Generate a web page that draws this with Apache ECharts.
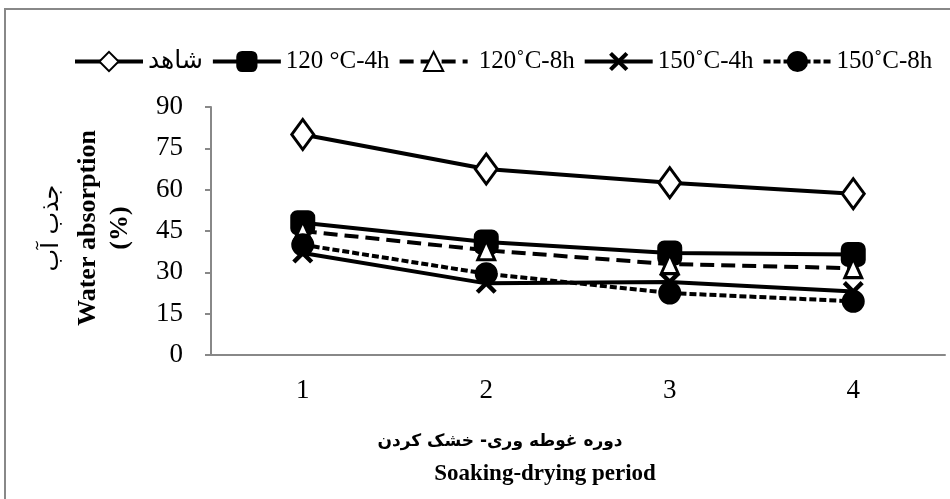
<!DOCTYPE html>
<html>
<head>
<meta charset="utf-8">
<script src="https://cdn.jsdelivr.net/npm/echarts@6/dist/echarts.min.js"></script>
<style>
html,body{margin:0;padding:0;background:#fff;}
#chart{width:950px;height:499px;}
</style>
</head>
<body>
<div id="chart"></div>
<script>
const categories = ['1', '2', '3', '4'];
const seriesNames = ['شاهد', '120 °C-4h', ' 120˚C-8h', '150˚C-4h', '150˚C-8h'];
const control = [80, 67.5, 62.5, 58.5];
const c120_4h = [48, 41, 37, 36.5];
const c120_8h = [45, 38, 33, 31.5];
const c150_4h = [37, 26, 26.5, 23];
const c150_8h = [40, 29.5, 22.5, 19.5];
const yTicks = {min: 0, max: 90, interval: 15};

const serif = 'Liberation Serif, DejaVu Sans';
const xPath = 'path://M3,0 L10,7 L17,0 L20,3 L13,10 L20,17 L17,20 L10,13 L3,20 L0,17 L7,10 L0,3 Z';

function mk(name, data, symbol, size, fill, dash) {
  return {
    name: name,
    type: 'line',
    data: data,
    symbol: symbol,
    symbolSize: size,
    showAllSymbol: true,
    lineStyle: {color: '#000', width: 4, type: dash},
    itemStyle: {color: fill, borderColor: '#000', borderWidth: symbol === xPath ? 0 : 3},
    emphasis: {disabled: true},
    animation: false
  };
}

const chart = echarts.init(document.getElementById('chart'), null, {renderer: 'canvas'});
chart.setOption({
  backgroundColor: '#fff',
  animation: false,
  legend: {
    top: 44,
    left: 68,
    itemWidth: 68,
    itemHeight: 24,
    itemGap: 8,
    lineStyle: {width: 4},
    textStyle: {fontFamily: serif, fontSize: 25, color: '#000'},
    data: seriesNames
  },
  grid: {left: 211, right: 5, top: 107, bottom: 144, containLabel: false},
  xAxis: {
    type: 'category',
    data: categories,
    boundaryGap: true,
    axisLine: {lineStyle: {color: '#888', width: 2}},
    axisTick: {show: false},
    axisLabel: {fontFamily: serif, fontSize: 27, color: '#000', margin: 22}
  },
  yAxis: {
    type: 'value',
    min: yTicks.min, max: yTicks.max, interval: yTicks.interval,
    splitLine: {show: false},
    axisLine: {show: true, lineStyle: {color: '#888', width: 2}},
    axisTick: {show: true, length: 6, lineStyle: {color: '#888', width: 2}},
    axisLabel: {fontFamily: serif, fontSize: 27, color: '#000', margin: 28}
  },
  series: [
    mk(seriesNames[0], control, 'diamond', [22, 30], '#fff', 'solid'),
    mk(seriesNames[1], c120_4h, 'roundRect', [22, 22], '#000', 'solid'),
    mk(seriesNames[2], c120_8h, 'triangle', [17, 19], '#fff', [14, 7]),
    mk(seriesNames[3], c150_4h, xPath, [21, 21], '#000', 'solid'),
    mk(seriesNames[4], c150_8h, 'circle', 20, '#000', [7, 3])
  ],
  graphic: [
    {type: 'rect', shape: {x: 5, y: 9, width: 1000, height: 1000}, style: {fill: null, stroke: '#888', lineWidth: 2}, silent: true},
    {type: 'text', x: 52, y: 228, rotation: Math.PI / 2, style: {text: 'جذب آب', font: '24px DejaVu Sans', fill: '#000', textAlign: 'center', textVerticalAlign: 'middle'}},
    {type: 'text', x: 88, y: 228, rotation: Math.PI / 2, style: {text: 'Water absorption', font: 'bold 26px Liberation Serif', fill: '#000', textAlign: 'center', textVerticalAlign: 'middle'}},
    {type: 'text', x: 120, y: 228, rotation: Math.PI / 2, style: {text: '(%)', font: 'bold 26px Liberation Serif', fill: '#000', textAlign: 'center', textVerticalAlign: 'middle'}},
    {type: 'text', x: 500, y: 442, style: {text: 'دوره غوطه وری- خشک کردن', font: 'bold 17px DejaVu Sans', fill: '#000', textAlign: 'center', textVerticalAlign: 'middle'}},
    {type: 'text', x: 545, y: 474, style: {text: 'Soaking-drying period', font: 'bold 23px Liberation Serif', fill: '#000', textAlign: 'center', textVerticalAlign: 'middle'}}
  ]
});
</script>
</body>
</html>
